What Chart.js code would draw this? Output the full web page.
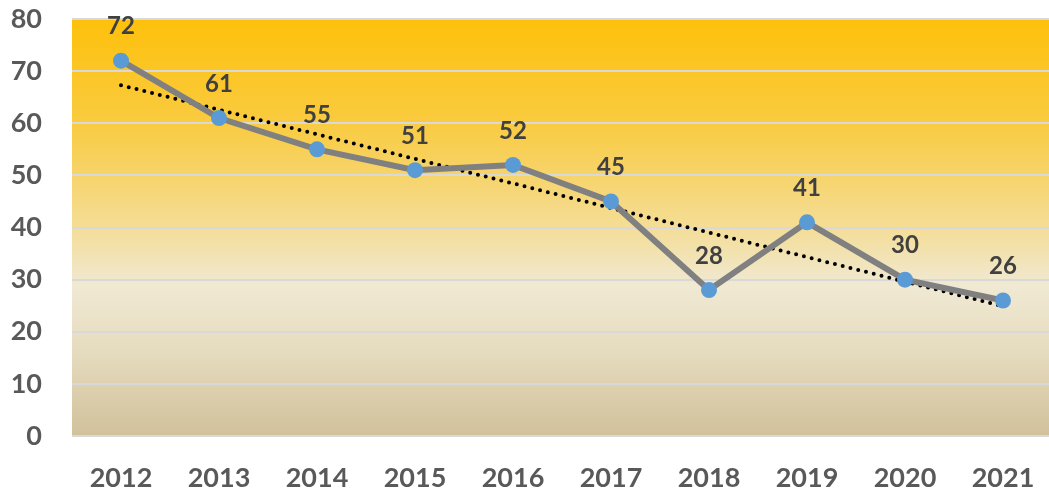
<!DOCTYPE html>
<html>
  <head>
    <title>Trend 2012-2021</title>
    <script src="https://cdn.jsdelivr.net/npm/chart.js@4/dist/chart.umd.min.js"></script>
    <style>
      html, body { margin:0; padding:0; background:#FFFFFF; overflow:hidden; }
      .wrap      { width:1060px; height:495px; }
    </style>
  </head>
  <body>
    <div class="wrap">
      <canvas id="myChart" width="1060" height="495"></canvas>
    </div>
    <script>
      var years = ['2012', '2013', '2014', '2015', '2016', '2017', '2018', '2019', '2020', '2021'];
      var counts = [72, 61, 55, 51, 52, 45, 28, 41, 30, 26];
      var trend = [67.3, null, null, null, null, null, null, null, null, 24.9];
      var yTicks = [0, 10, 20, 30, 40, 50, 60, 70, 80];

      var fontFam = 'Lato, "Open Sans", "DejaVu Sans", sans-serif';

      var bgPlugin = {
        id: 'bgGradient',
        beforeDraw: function(chart) {
          var a = chart.chartArea, ctx = chart.ctx;
          var g = ctx.createLinearGradient(0, a.top, 0, a.bottom);
          g.addColorStop(0, '#FEC00C');
          g.addColorStop(0.25, '#F9CB40');
          g.addColorStop(0.5, '#F4DD96');
          g.addColorStop(0.64, '#F0E9D3');
          g.addColorStop(0.8, '#E5DBBE');
          g.addColorStop(1, '#D1C19B');
          ctx.save();
          ctx.fillStyle = g;
          ctx.fillRect(a.left, a.top, a.right - a.left, a.bottom - a.top);
          ctx.restore();
        }
      };

      var labelPlugin = {
        id: 'valueLabels',
        afterDatasetsDraw: function(chart) {
          var ctx = chart.ctx;
          var meta = chart.getDatasetMeta(1);
          ctx.save();
          ctx.font = 'bold 24px ' + fontFam;
          ctx.fillStyle = '#404040';
          ctx.textAlign = 'center';
          ctx.textBaseline = 'middle';
          meta.data.forEach(function(pt, i) {
            ctx.fillText(counts[i], pt.x, pt.y - 34);
          });
          ctx.restore();
        }
      };

      var ctx = document.getElementById('myChart').getContext('2d');
      var myChart = new Chart(ctx, {
        type: 'line',
        data: {
          labels: years,
          datasets: [{
            data: trend,
            spanGaps: true,
            borderColor: '#000000',
            borderWidth: 4,
            borderDash: [0, 8],
            borderCapStyle: 'round',
            pointRadius: 0,
            fill: false,
            order: 2
          }, {
            data: counts,
            borderColor: '#808080',
            borderWidth: 6,
            pointRadius: 8,
            pointBackgroundColor: '#5B9BD5',
            pointBorderColor: '#5B9BD5',
            pointBorderWidth: 0,
            fill: false,
            tension: 0,
            order: 1
          }]
        },
        options: {
          responsive: false,
          animation: false,
          maintainAspectRatio: false,
          devicePixelRatio: 1,
          layout: { padding: { top: 19, right: 0, left: 0, bottom: 0 } },
          plugins: {
            legend: { display: false },
            tooltip: { enabled: false }
          },
          scales: {
            x: {
              offset: true,
              grid: { display: false },
              border: { display: false },
              ticks: {
                color: '#595959',
                font: { family: fontFam, size: 27, weight: 'bold' },
                padding: 18,
                maxRotation: 0,
                autoSkip: false
              },
              afterFit: function(scale) { scale.height = 59; }
            },
            y: {
              min: 0,
              max: 80,
              afterBuildTicks: function(scale) {
                scale.ticks = yTicks.map(function(v) { return { value: v }; });
              },
              grid: { color: '#D9D9D9', lineWidth: 2, drawTicks: false },
              border: { display: false },
              ticks: {
                color: '#595959',
                font: { family: fontFam, size: 27, weight: 'bold' },
                padding: 30
              },
              afterFit: function(scale) {
                scale.width = 72;
                scale.paddingTop = 0;
                scale.paddingBottom = 0;
              }
            }
          }
        },
        plugins: [bgPlugin, labelPlugin]
      });
    </script>
  </body>
</html>
